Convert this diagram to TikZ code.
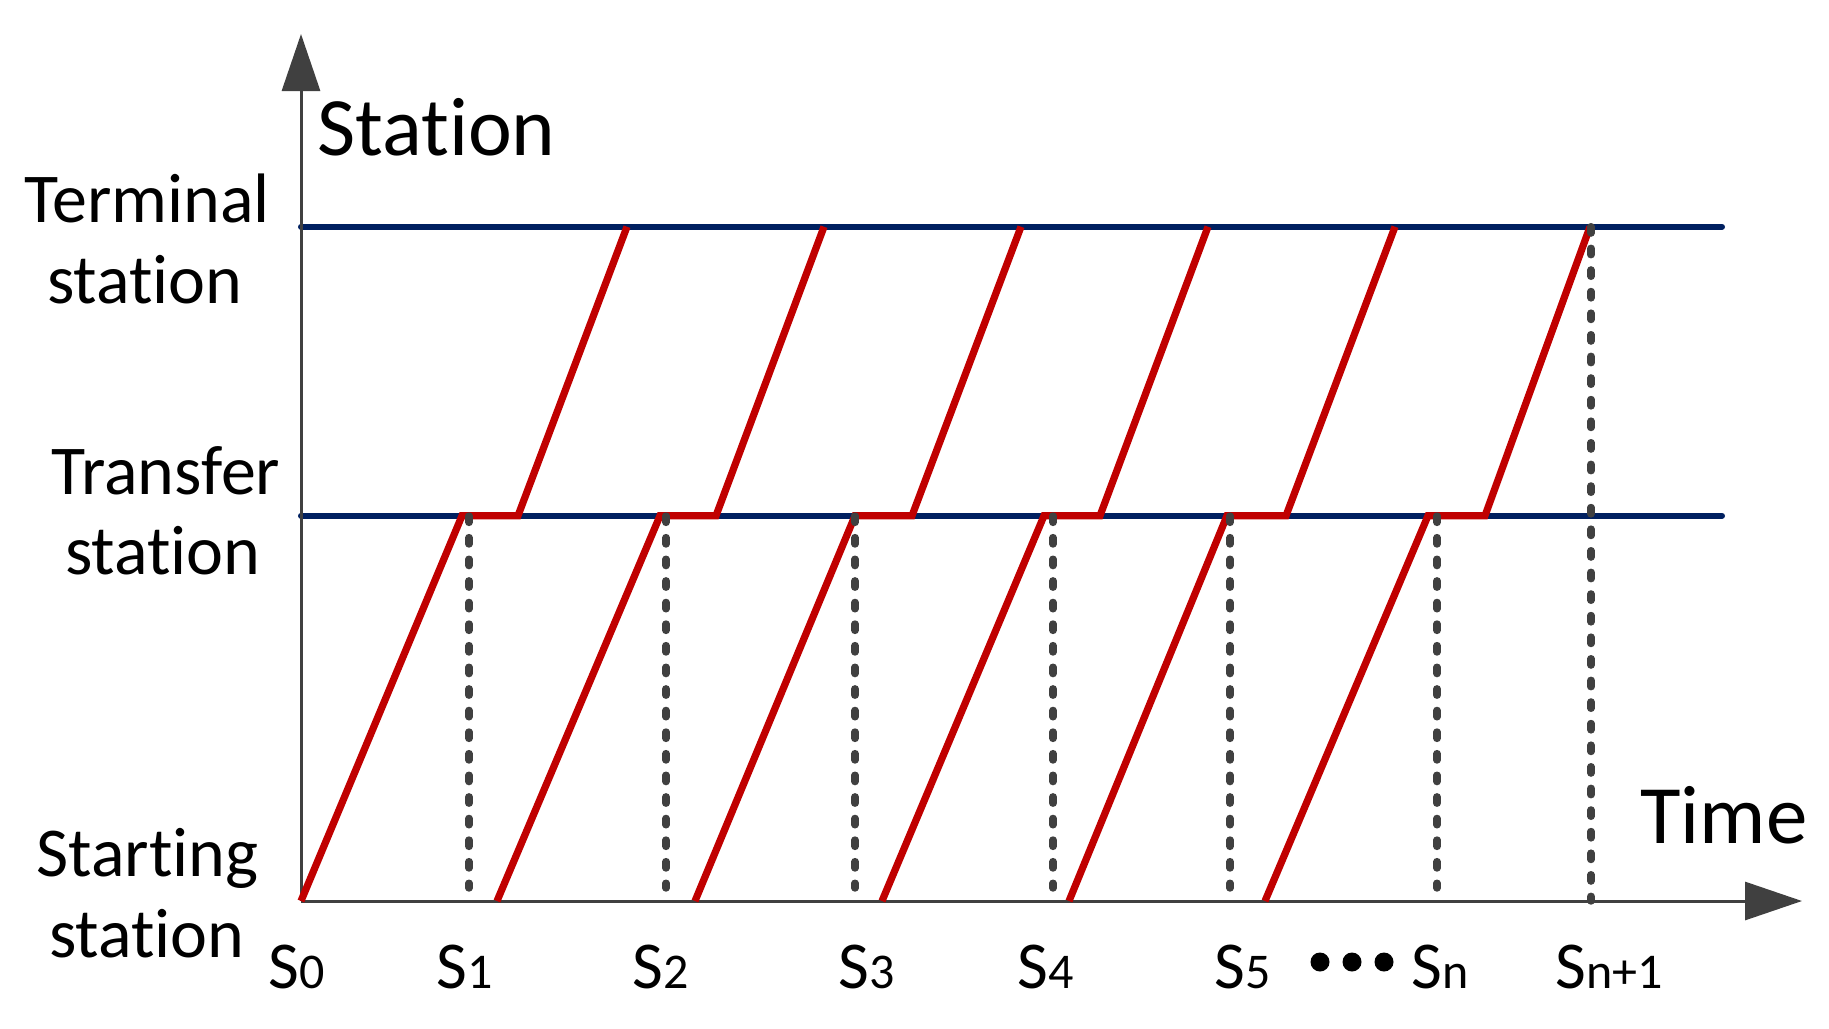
\documentclass[tikz,border=0pt]{standalone}
\usepackage{fontspec}
\setmainfont{Carlito}[Ligatures=NoCommon]
\usetikzlibrary{arrows.meta}
\definecolor{trainred}{HTML}{C00000}
\definecolor{linenavy}{HTML}{002060}
\definecolor{axisgray}{HTML}{404040}
\tikzset{
  axisline/.style={draw=axisgray, line width=1.5pt, -{Triangle[length=28.5pt,width=19pt]}},
  stationline/.style={draw=linenavy, line width=3pt, line cap=round},
  train/.style={draw=trainred, line width=3.6pt},
  dotline/.style={draw=axisgray, line width=3.7pt, line cap=round, dash pattern=on 3.2pt off 7.6pt},
  ylab/.style={anchor=base, inner sep=0pt, font=\fontsize{35}{40}\selectfont},
  axtitle/.style={anchor=base west, inner sep=0pt, font=\fontsize{41.5}{48}\selectfont},
  slab/.style={anchor=base west, inner sep=0pt, font=\fontsize{33.5}{40}\selectfont},
  dotmark/.style={circle, fill=black, inner sep=0pt, minimum size=9.5pt}
}
\newcommand{\sub}[1]{{\fontsize{25}{30}\selectfont #1}}
\begin{document}
\begin{tikzpicture}[x=0.5pt, y=-0.5pt]
\useasboundingbox (0,0) rectangle (1829,1028);

% axes
\coordinate (O) at (301,901);
\coordinate (ytop) at (301,34);
\coordinate (xend) at (1802,901);

% station lines
\coordinate (tmA) at (301,226.7);
\coordinate (tmB) at (1722,226.7);
\coordinate (trA) at (301,515.7);
\coordinate (trB) at (1722,515.7);
\draw[stationline] (tmA) -- (tmB);
\draw[stationline] (trA) -- (trB);

\draw[axisline] (O) -- (ytop);
\draw[axisline] (O) -- (xend);

% trains
\foreach \i/\a/\b/\c/\d in {1/301/462/518/627, 2/497/660/716/824, 3/695/855/912/1021,
  4/882/1044/1100/1208, 5/1069/1227/1286/1395, 6/1265/1428/1485/1590}{
  \coordinate (s\i) at (\a,901);
  \coordinate (p\i) at (\b,515.7);
  \coordinate (q\i) at (\c,515.7);
  \coordinate (e\i) at (\d,226.7);
  \draw[train] (s\i) -- (p\i) -- (q\i) -- (e\i);
}

% dotted verticals
\foreach \i/\x in {1/469, 2/666, 3/855, 4/1053, 5/1230, 6/1437}{
  \coordinate (da\i) at (\x,516);
  \coordinate (db\i) at (\x,888);
  \draw[dotline] (da\i) -- (db\i);
}
\coordinate (da7) at (1591,226.7);
\coordinate (db7) at (1591,901);
\draw[dotline] (da7) -- (db7);

% axis titles
\node[axtitle] (stitle) at (317,155) {Station};
\node[axtitle] (ttitle) at (1640,843) {Time};

% y labels
\node[ylab] (term1) at (147,222) {Terminal};
\node[ylab] (term2) at (145,303) {station};
\node[ylab] (tran1) at (166,494) {Transfer};
\node[ylab] (tran2) at (163,574.5) {station};
\node[ylab] (strt1) at (147.5,876.5) {Starting};
\node[ylab] (strt2) at (147,957) {station};

% x labels
\node[slab] (L0) at (268,988) {S\sub{0}};
\node[slab] (L1) at (436,988) {S\sub{1}};
\node[slab] (L2) at (632,988) {S\sub{2}};
\node[slab] (L3) at (838,988) {S\sub{3}};
\node[slab] (L4) at (1017,988) {S\sub{4}};
\node[slab] (L5) at (1214,988) {S\sub{5}};
\node[slab] (Ln) at (1411,988) {S\sub{n}};
\node[slab] (Ln1) at (1555,988) {S\sub{n+1}};

% ellipsis dots
\node[dotmark] (dot1) at (1320,962) {};
\node[dotmark] (dot2) at (1352,962) {};
\node[dotmark] (dot3) at (1384,962) {};
\end{tikzpicture}
\end{document}
